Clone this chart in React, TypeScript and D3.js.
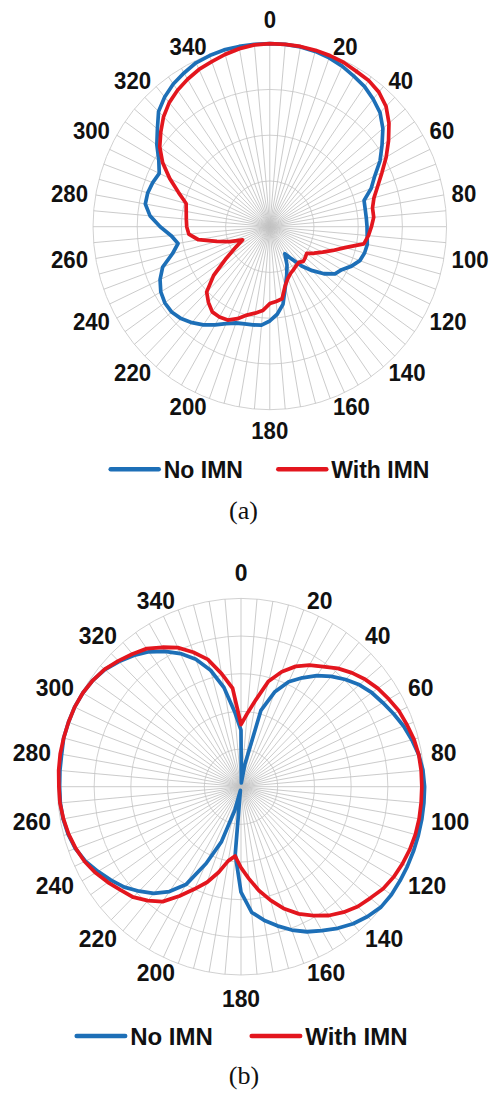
import React from 'react';
import * as d3 from 'd3';

// ---------- data ----------
// measurement angles in degrees (every 5°)
const ANGLES: number[] = [
  0, 5, 10, 15, 20, 25, 30, 35, 40, 45, 50, 55, 60, 65, 70, 75, 80, 85,
  90, 95, 100, 105, 110, 115, 120, 125, 130, 135, 140, 145, 150, 155, 160, 165, 170, 175,
  180, 185, 190, 195, 200, 205, 210, 215, 220, 225, 230, 235, 240, 245, 250, 255, 260, 265,
  270, 275, 280, 285, 290, 295, 300, 305, 310, 315, 320, 325, 330, 335, 340, 345, 350, 355,
];
const TICK_LABELS: number[] = [0, 20, 40, 60, 80, 100, 120, 140, 160, 180, 200, 220, 240, 260, 280, 300, 320, 340];
const SERIES_NAMES: string[] = ['No IMN', 'With IMN'];
const SERIES_COLORS: string[] = ['#1d6fb7', '#e3161e'];

// (a) normalized radiation pattern
const A_NO_IMN: number[] = [
  1.0, 1.0, 0.998, 0.992, 0.982, 0.968, 0.95, 0.935, 0.91, 0.882, 0.835, 0.775, 0.72, 0.655, 0.61, 0.552, 0.548, 0.548,
  0.55, 0.553, 0.56, 0.555, 0.542, 0.51, 0.47, 0.45, 0.40, 0.34, 0.28, 0.215, 0.17, 0.23, 0.28, 0.34, 0.43, 0.48,
  0.515, 0.54, 0.545, 0.55, 0.56, 0.585, 0.62, 0.655, 0.685, 0.71, 0.725, 0.725, 0.712, 0.685, 0.645, 0.57, 0.527, 0.56,
  0.62, 0.68, 0.715, 0.715, 0.705, 0.69, 0.725, 0.78, 0.83, 0.89, 0.925, 0.952, 0.97, 0.988, 0.995, 1.0, 1.0, 1.0,
];
const A_WITH_IMN: number[] = [
  1.0, 1.0, 1.0, 0.998, 0.995, 0.99, 0.98, 0.975, 0.96, 0.93, 0.88, 0.82, 0.76, 0.70, 0.65, 0.61, 0.59, 0.59,
  0.575, 0.56, 0.54, 0.44, 0.38, 0.33, 0.29, 0.255, 0.262, 0.268, 0.255, 0.26, 0.27, 0.28, 0.30, 0.335, 0.40, 0.41,
  0.42, 0.46, 0.48, 0.50, 0.535, 0.563, 0.57, 0.568, 0.54, 0.505, 0.415, 0.30, 0.22, 0.17, 0.24, 0.31, 0.41, 0.46,
  0.47, 0.474, 0.48, 0.49, 0.55, 0.625, 0.70, 0.76, 0.805, 0.85, 0.885, 0.91, 0.93, 0.948, 0.96, 0.975, 0.988, 0.997,
];

// (b) normalized radiation pattern
const B_NO_IMN: number[] = [
  0.30, 0.02, 0.12, 0.42, 0.535, 0.615, 0.668, 0.72, 0.765, 0.805, 0.842, 0.87, 0.892, 0.917, 0.942, 0.963, 0.983, 0.995,
  1.0, 1.0, 1.0, 1.0, 1.0, 1.0, 1.0, 1.0, 0.995, 0.975, 0.95, 0.918, 0.882, 0.85, 0.81, 0.765, 0.72, 0.67,
  0.56, 0.36, 0.02, 0.13, 0.31, 0.45, 0.60, 0.68, 0.74, 0.785, 0.83, 0.865, 0.90, 0.935, 0.96, 0.975, 0.984, 0.988,
  0.988, 0.99, 0.992, 1.0, 1.0, 1.0, 0.995, 0.985, 0.968, 0.94, 0.91, 0.875, 0.83, 0.78, 0.72, 0.64, 0.535, 0.40,
];
const B_WITH_IMN: number[] = [
  0.33, 0.39, 0.47, 0.58, 0.65, 0.705, 0.745, 0.778, 0.82, 0.855, 0.885, 0.91, 0.93, 0.95, 0.962, 0.975, 0.983, 0.985,
  0.985, 0.985, 0.985, 0.983, 0.978, 0.97, 0.96, 0.945, 0.92, 0.90, 0.87, 0.835, 0.79, 0.745, 0.69, 0.625, 0.56, 0.49,
  0.43, 0.37, 0.40, 0.47, 0.54, 0.60, 0.67, 0.745, 0.79, 0.83, 0.855, 0.885, 0.915, 0.94, 0.958, 0.972, 0.982, 0.99,
  0.992, 0.997, 1.0, 1.0, 1.0, 1.0, 0.995, 0.985, 0.97, 0.945, 0.92, 0.895, 0.855, 0.815, 0.76, 0.70, 0.61, 0.525,
];

// ---------- components ----------
type PolarProps = {
  cx: number; cy: number; R: number; sx: number; rings: number;
  fontSize: number; labelK: number; series: number[][];
};

function Polar({ cx, cy, R, sx, rings, fontSize, labelK, series }: PolarProps) {
  const rScale = d3.scaleLinear().domain([0, 1]).range([0, R]);
  const aScale = d3.scaleLinear().domain([0, 360]).range([0, 2 * Math.PI]);
  const line = d3
    .lineRadial<number>()
    .angle((_d, i) => aScale(ANGLES[i]))
    .radius((d) => rScale(d))
    .curve(d3.curveLinearClosed);
  const ringVals = d3.range(1, rings + 1).map((k) => k / rings);
  const Rl = R * labelK;

  return (
    <g transform={`translate(${cx},${cy}) scale(${sx},1)`}>
      {ringVals.map((v) => (
        <circle key={'r' + v} r={rScale(v)} fill="none" stroke="#d0d0d0" strokeWidth={1} />
      ))}
      {ANGLES.map((ang) => {
        const t = aScale(ang);
        return (
          <line key={'s' + ang} x1={0} y1={0}
            x2={rScale(1) * Math.sin(t)} y2={-rScale(1) * Math.cos(t)}
            stroke="#c4c4c4" strokeWidth={0.9} />
        );
      })}
      {series.map((s, i) => (
        <path key={'p' + i} d={line(s) || ''} fill="none" stroke={SERIES_COLORS[i]}
          strokeWidth={3.8} strokeLinejoin="round" />
      ))}
      {TICK_LABELS.map((lab) => {
        const t = aScale(lab);
        const x = Rl * Math.sin(t);
        let y = -Rl * Math.cos(t);
        const anchor: 'start' | 'middle' | 'end' = lab === 0 || lab === 180 ? 'middle' : lab < 180 ? 'start' : 'end';
        if (lab === 0) y -= fontSize * 0.68;
        if (lab === 180) y += fontSize * 0.58;
        return (
          <text key={'l' + lab} x={x} y={y} dy="0.36em" textAnchor={anchor}
            fontFamily="'Liberation Sans', Arial, Helvetica, sans-serif" fontWeight="bold"
            fontSize={fontSize} fill="#111">{lab}</text>
        );
      })}
    </g>
  );
}

type LegendProps = { y: number; x0: number[]; lineLen: number; fontSize: number };
function Legend({ y, x0, lineLen, fontSize }: LegendProps) {
  return (
    <g>
      {SERIES_NAMES.map((name, i) => (
        <g key={name}>
          <line x1={x0[i]} x2={x0[i] + lineLen} y1={y} y2={y} stroke={SERIES_COLORS[i]}
            strokeWidth={4.5} strokeLinecap="round" />
          <text x={x0[i] + lineLen + 5} y={y} dy="0.36em"
            fontFamily="'Liberation Sans', Arial, Helvetica, sans-serif" fontWeight="bold"
            fontSize={fontSize} fill="#111">{name}</text>
        </g>
      ))}
    </g>
  );
}

export default function App() {
  return (
    <div style={{ position: 'absolute', left: 0, top: 0, background: '#fff' }}>
      <svg width={492} height={1095} viewBox="0 0 492 1095" style={{ display: 'block' }}>
        <rect width={492} height={1095} fill="#fff" />
        <Polar cx={269.8} cy={226.7} R={183} sx={0.966} rings={4} fontSize={23} labelK={1.044}
          series={[A_NO_IMN, A_WITH_IMN]} />
        <Legend y={469.3} x0={[110.7, 278.3]} lineLen={48} fontSize={23} />
        <text x={243.5} y={519} textAnchor="middle" fontFamily="'Liberation Serif', 'Times New Roman', serif"
          fontSize={26} fill="#111">(a)</text>

        <Polar cx={241} cy={786.7} R={188.3} sx={0.975} rings={5} fontSize={23.5} labelK={1.051}
          series={[B_NO_IMN, B_WITH_IMN]} />
        <Legend y={1036} x0={[76.7, 251.7]} lineLen={48.5} fontSize={24} />
        <text x={244} y={1084} textAnchor="middle" fontFamily="'Liberation Serif', 'Times New Roman', serif"
          fontSize={26} fill="#111">(b)</text>
      </svg>
    </div>
  );
}
